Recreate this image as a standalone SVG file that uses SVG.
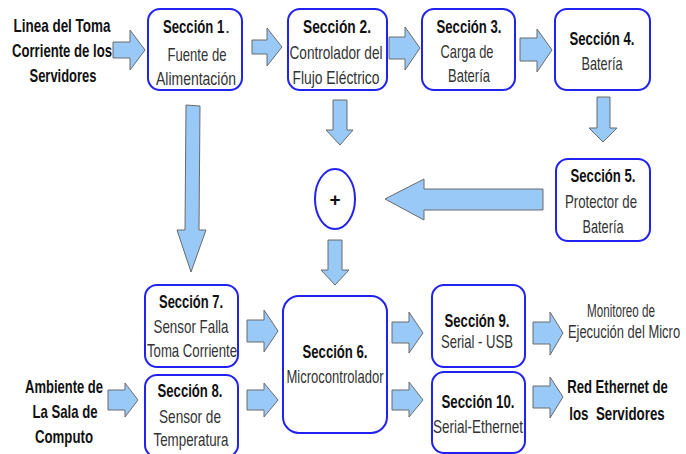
<svg xmlns="http://www.w3.org/2000/svg" width="686" height="454" viewBox="0 0 686 454">
<style>
.box{fill:#fff;stroke:#2222ee;stroke-width:2}
.arr{fill:#99c9f7;stroke:#6a6a6a;stroke-width:1}
text{font-family:"Liberation Sans",Arial,sans-serif;font-size:18.5px;fill:#333;text-anchor:middle}
.b{font-weight:bold;fill:#111}
.e{text-anchor:end}
.s{text-anchor:start}
</style>
<rect width="686" height="454" fill="#fff"/>
<g id="connectors">
<polygon class="arr" points="113,42 130,42 130,30 145,50 130,70 130,58 113,58"/>
<polygon class="arr" points="252,40 267,40 267,28 282,47 267,66 267,54 252,54"/>
<polygon class="arr" points="389,37 405,37 405,27 420,48 405,70 405,59 389,59"/>
<polygon class="arr" points="520,38 537,38 537,29 552,50 537,72 537,61 520,61"/>
<polygon class="arr" points="333,100 347,100 347,130 353,130 340,145 326,130 333,130"/>
<polygon class="arr" points="597,97 610,97 610,128 617,128 603,142 589,128 597,128"/>
<polygon class="arr" points="543,189 543,210 424,210 424,220 385,199 424,179 424,189"/>
<polygon class="arr" points="328,240 342,240 342,270 349,270 335,285 321,270 328,270"/>
<polygon class="arr" points="186,105 200,106 199,230 206,230 191,272 177,230 185,230"/>
<polygon class="arr" points="247,320 264,320 264,310 278,331 264,352 264,342 247,342"/>
<polygon class="arr" points="247,390 264,390 264,383 278,400 264,417 264,410 247,410"/>
<polygon class="arr" points="108,390 125,390 125,383 138,400 125,417 125,410 108,410"/>
<polygon class="arr" points="392,322 409,322 409,312 423,333 409,353 409,343 392,343"/>
<polygon class="arr" points="392,390 409,390 409,382 423,400 409,417 409,410 392,410"/>
<polygon class="arr" points="533,322 550,322 550,312 563,333 550,355 550,344 533,344"/>
<polygon class="arr" points="533,386 550,386 550,377 563,397 550,418 550,408 533,408"/>
</g>
<g id="src1">
<text class="b" x="62" y="32" textLength="97" lengthAdjust="spacingAndGlyphs">Linea del Toma</text>
<text class="b" x="62" y="57" textLength="100" lengthAdjust="spacingAndGlyphs">Corriente de los</text>
<text class="b" x="63" y="82" textLength="67" lengthAdjust="spacingAndGlyphs">Servidores</text>
</g>
<g id="s1">
<rect class="box" x="148" y="9" width="94" height="81" rx="12"/>
<text class="b s" transform="translate(163,33) scale(0.71,1)" x="0" y="0">Sección 1</text>
<text class="s" x="225" y="33">.</text>
<text x="197" y="61" textLength="59" lengthAdjust="spacingAndGlyphs">Fuente de</text>
<text x="196" y="85" textLength="80" lengthAdjust="spacingAndGlyphs">Alimentación</text>
</g>
<g id="s2">
<rect class="box" x="288" y="9" width="99" height="81" rx="12"/>
<text class="b" x="337" y="33" textLength="68" lengthAdjust="spacingAndGlyphs">Sección 2.</text>
<text x="336" y="59" textLength="93" lengthAdjust="spacingAndGlyphs">Controlador del</text>
<text x="336" y="84" textLength="87" lengthAdjust="spacingAndGlyphs">Flujo Eléctrico</text>
</g>
<g id="s3">
<rect class="box" x="422" y="9" width="93" height="81" rx="12"/>
<text class="b" x="469" y="33" textLength="65" lengthAdjust="spacingAndGlyphs">Sección 3.</text>
<text x="467" y="58" textLength="53" lengthAdjust="spacingAndGlyphs">Carga de</text>
<text x="469" y="82" textLength="42" lengthAdjust="spacingAndGlyphs">Batería</text>
</g>
<g id="s4">
<rect class="box" x="555" y="9" width="95" height="81" rx="12"/>
<text class="b" x="602" y="45" textLength="65" lengthAdjust="spacingAndGlyphs">Sección 4.</text>
<text x="602" y="70" textLength="41" lengthAdjust="spacingAndGlyphs">Batería</text>
</g>
<g id="plus">
<ellipse class="box" cx="335" cy="199" rx="20" ry="30"/>
<text class="b" x="335" y="206" style="font-size:19px">+</text>
</g>
<g id="s5">
<rect class="box" x="556" y="159" width="94" height="82" rx="12"/>
<text class="b" x="603" y="182" textLength="65" lengthAdjust="spacingAndGlyphs">Sección 5.</text>
<text x="601" y="208" textLength="72" lengthAdjust="spacingAndGlyphs">Protector de</text>
<text x="603" y="233" textLength="41" lengthAdjust="spacingAndGlyphs">Batería</text>
</g>
<g id="s7">
<rect class="box" x="145" y="285" width="93" height="82" rx="12"/>
<text class="b" x="191" y="308" textLength="64" lengthAdjust="spacingAndGlyphs">Sección 7.</text>
<text x="191" y="333" textLength="75" lengthAdjust="spacingAndGlyphs">Sensor Falla</text>
<text x="192" y="357" textLength="90" lengthAdjust="spacingAndGlyphs">Toma Corriente</text>
</g>
<g id="s8">
<rect class="box" x="145" y="375" width="93" height="82" rx="12"/>
<text class="b" x="190" y="397" textLength="65" lengthAdjust="spacingAndGlyphs">Sección 8.</text>
<text x="190" y="423" textLength="62" lengthAdjust="spacingAndGlyphs">Sensor de</text>
<text x="191" y="446" textLength="75" lengthAdjust="spacingAndGlyphs">Temperatura</text>
</g>
<g id="src2">
<text class="b" x="64" y="393" textLength="78" lengthAdjust="spacingAndGlyphs">Ambiente de</text>
<text class="b" x="65" y="418" textLength="65" lengthAdjust="spacingAndGlyphs">La Sala de</text>
<text class="b" x="64" y="443" textLength="58" lengthAdjust="spacingAndGlyphs">Computo</text>
</g>
<g id="s6">
<rect class="box" x="283" y="296" width="104" height="137" rx="16"/>
<text class="b" x="335" y="358" textLength="65" lengthAdjust="spacingAndGlyphs">Sección 6.</text>
<text x="335" y="383" textLength="97" lengthAdjust="spacingAndGlyphs">Microcontrolador</text>
</g>
<g id="s9">
<rect class="box" x="432" y="285" width="93" height="82" rx="12"/>
<text class="b" x="477" y="327" textLength="65" lengthAdjust="spacingAndGlyphs">Sección 9.</text>
<text x="477" y="348" textLength="72" lengthAdjust="spacingAndGlyphs">Serial - USB</text>
</g>
<g id="s10">
<rect class="box" x="432" y="372" width="93" height="81" rx="12"/>
<text class="b" x="478" y="408" textLength="73" lengthAdjust="spacingAndGlyphs">Sección 10.</text>
<text x="478" y="433" textLength="90" lengthAdjust="spacingAndGlyphs">Serial-Ethernet</text>
</g>
<g id="out1">
<text transform="translate(621,317) scale(0.63,1)" x="0" y="0">Monitoreo de</text>
<text transform="translate(624,338) scale(0.70,1)" x="0" y="0">Ejecución del Micro</text>
</g>
<g id="out2">
<text class="b" transform="translate(617.5,393) scale(0.71,1)" x="0" y="0">Red Ethernet de</text>
<text class="b" transform="translate(617,420) scale(0.72,1)" x="0" y="0" xml:space="preserve">los  Servidores</text>
</g>
</svg>
